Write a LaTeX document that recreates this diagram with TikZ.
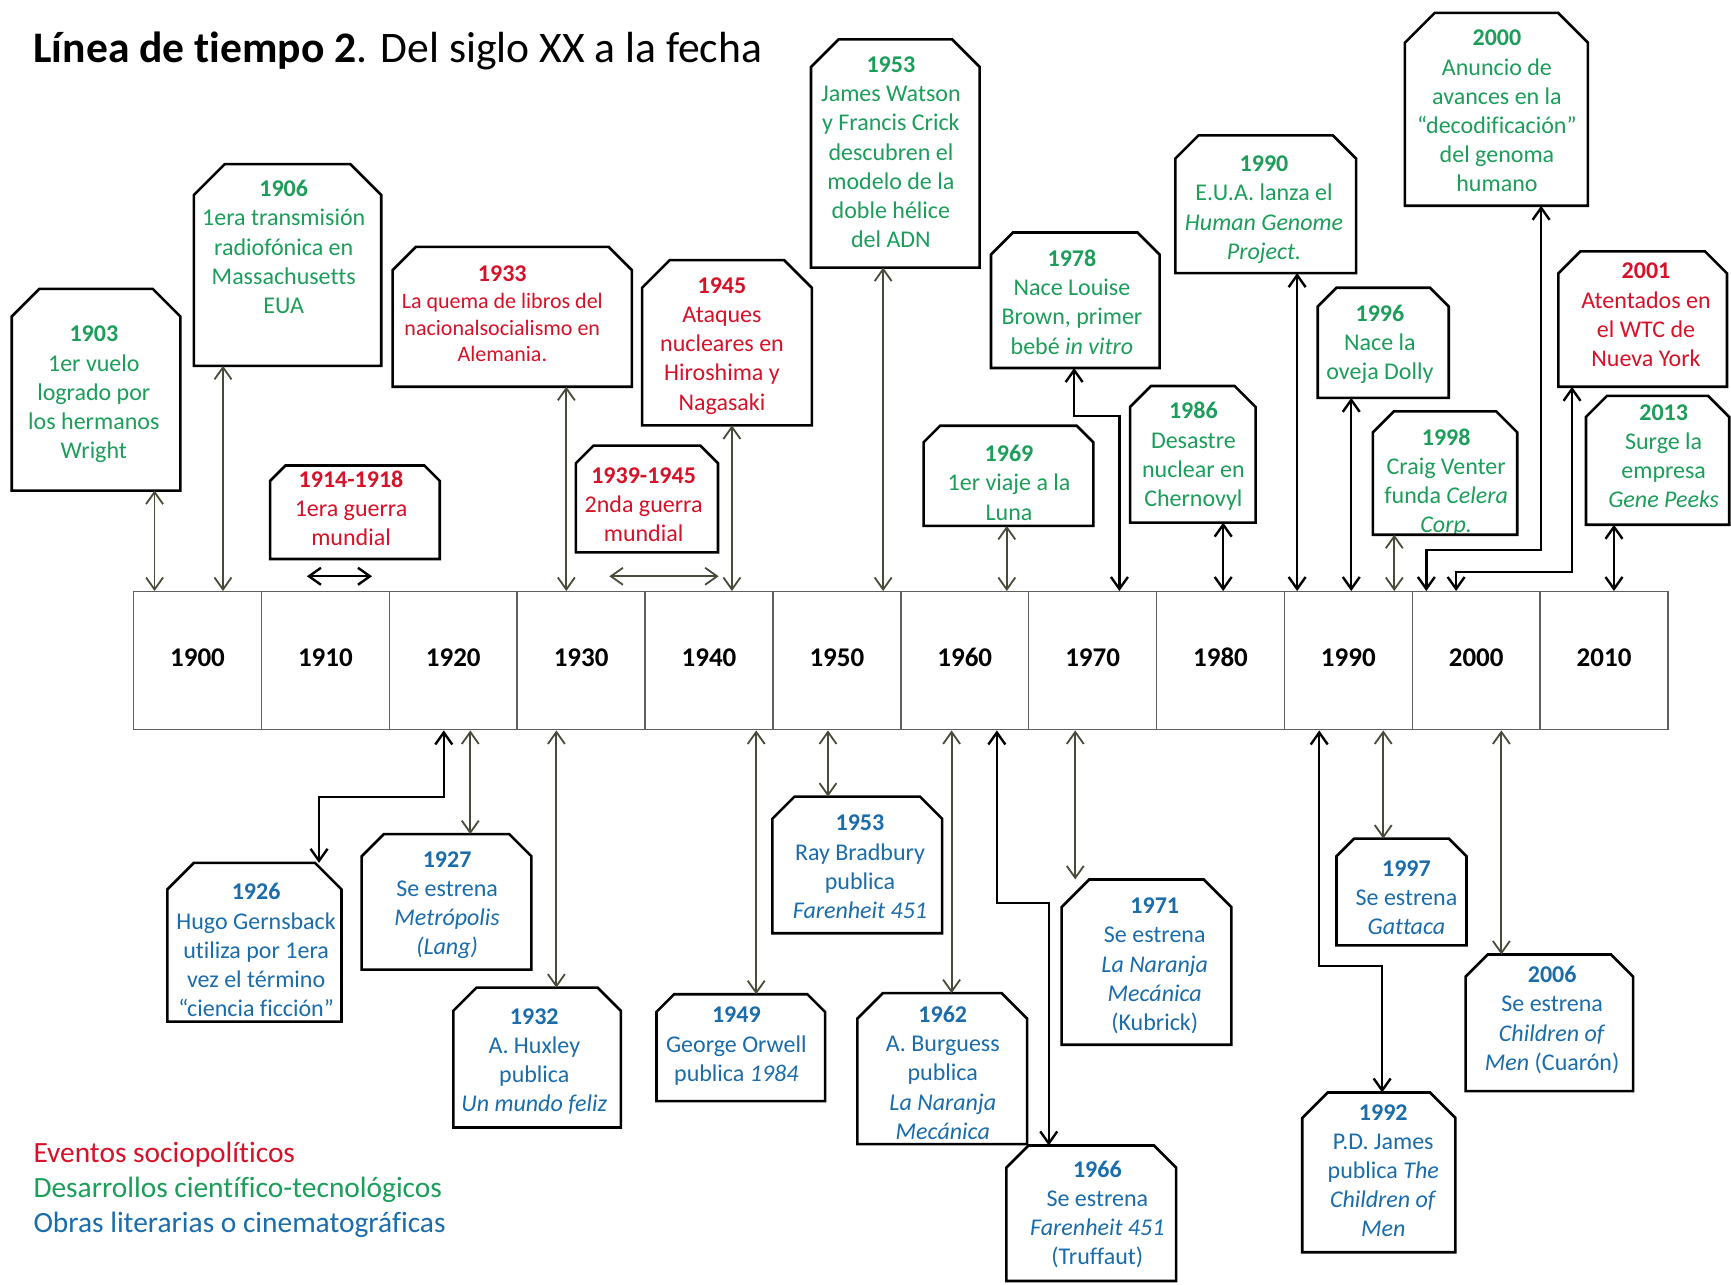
\documentclass[tikz,border=0pt]{standalone}
\usepackage{fontspec}
\setmainfont{Carlito}[Ligatures=NoCommon]
\usetikzlibrary{arrows.meta}

\definecolor{evred}{RGB}{214,18,40}
\definecolor{evgreen}{RGB}{28,158,90}
\definecolor{evblue}{RGB}{26,108,170}
\definecolor{linkgray}{RGB}{74,74,58}
\definecolor{barline}{RGB}{95,95,95}
\def\dpx{0.552pt}

\tikzset{
  evbox/.style 2 args={rectangle, inner sep=0pt, minimum width=#1*\dpx, minimum height=#2*\dpx},
  snip/.style={draw=black, line width=1.3pt, line join=miter},
  evtext/.style={align=center, inner sep=0pt, anchor=north, font=\fontsize{12}{14.6}\selectfont},
  sociopol/.style={evtext, text=evred},
  ciencia/.style={evtext, text=evgreen},
  obra/.style={evtext, text=evblue},
  cell/.style={draw=barline, line width=0.7pt, minimum width=115.83*\dpx, minimum height=125*\dpx,
    inner sep=0pt, text depth=3.5pt, font=\fontsize{13.5}{16}\selectfont\bfseries},
  barb/.tip={Straight Barb[length=6pt,width=8.5pt]},
  glink/.style={draw=linkgray, line width=0.9pt, barb-barb},
  blink/.style={draw=black, line width=1.2pt, barb-barb},
  key/.style={anchor=base west, inner sep=0pt, font=\fontsize{14.7}{17}\selectfont},
}

\begin{document}
\begin{tikzpicture}[x=\dpx, y=-\dpx]
\useasboundingbox[fill=white] (0,0) rectangle (1568,1164);

\node[anchor=base west, inner sep=0pt, font=\fontsize{21.8}{26}\selectfont] (title) at (30,57)
  {\textbf{Línea de tiempo 2}. Del siglo XX a la fecha};

% decades
\foreach \yr [count=\i from 0] in {1900,1910,...,2010}
  \node[cell] (c\yr) at ({121+115.83*(\i+0.5)},598.5) {\yr};

% events above the line
\node[evbox={152}{182}] (b1903) at (87,353) {};
\node[ciencia] (t1903) at (85,295) {\textbf{1903}\\1er vuelo\\logrado por\\los hermanos\\Wright};
\node[evbox={169}{182}] (b1906) at (260.5,240) {};
\node[ciencia] (t1906) at (257,163) {\textbf{1906}\\1era transmisión\\radiofónica en\\Massachusetts\\EUA};
\node[evbox={153}{84}] (b1914) at (321.5,464) {};
\node[sociopol] (t1914) at (318,426) {\textbf{1914-1918}\\1era guerra\\mundial};
\node[evbox={216}{126}] (b1933) at (464,287) {};
\node[sociopol] (t1933) at (455,240) {\textbf{1933}\\[-0.8pt]
  \fontsize{11}{13}\selectfont La quema de libros del\\[-1.4pt]
  \fontsize{11}{13}\selectfont nacionalsocialismo en\\[-1.4pt]
  \fontsize{11}{13}\selectfont Alemania.};
\node[evbox={128}{96}] (b1939) at (586,452) {};
\node[sociopol] (t1939) at (583,423) {\textbf{1939-1945}\\2nda guerra\\mundial};
\node[evbox={153}{149}] (b1945) at (658.5,310.5) {};
\node[sociopol] (t1945) at (654,251) {\textbf{1945}\\Ataques\\nucleares en\\Hiroshima y\\Nagasaki};
\node[evbox={152}{206}] (b1953t) at (811,139) {};
\node[ciencia] (t1953t) at (807,51) {\textbf{1953}\\James Watson\\y Francis Crick\\descubren el\\modelo de la\\doble hélice\\del ADN};
\node[evbox={153}{90}] (b1969) at (913.5,431) {};
\node[ciencia] (t1969) at (914,403) {\textbf{1969}\\1er viaje a la\\Luna};
\node[evbox={152}{122}] (b1978) at (974,272) {};
\node[ciencia] (t1978) at (971,226) {\textbf{1978}\\Nace Louise\\Brown, primer\\bebé \textit{in vitro}};
\node[evbox={113}{123}] (b1986) at (1080.5,411.5) {};
\node[ciencia] (t1986) at (1081,364) {\textbf{1986}\\Desastre\\nuclear en\\Chernovyl};
\node[evbox={163}{124}] (b1990) at (1146.5,185) {};
\node[ciencia] (t1990) at (1145,141) {\textbf{1990}\\E.U.A. lanza el\\\textit{Human Genome}\\\textit{Project.}};
\node[evbox={118}{99}] (b1996) at (1253,310.5) {};
\node[ciencia] (t1996) at (1250,276) {\textbf{1996}\\Nace la\\oveja Dolly};
\node[evbox={130}{111}] (b1998) at (1309,428.5) {};
\node[ciencia] (t1998) at (1310,388) {\textbf{1998}\\Craig Venter\\funda \textit{Celera}\\\textit{Corp.}};
\node[evbox={165}{174}] (b2000) at (1355.5,99) {};
\node[ciencia] (t2000) at (1356,27) {\textbf{2000}\\Anuncio de\\avances en la\\“decodificación”\\del genoma\\humano};
\node[evbox={152}{122}] (b2001) at (1488,289) {};
\node[sociopol] (t2001) at (1491,238) {\textbf{2001}\\Atentados en\\el WTC de\\Nueva York};
\node[evbox={129}{116}] (b2013) at (1501.5,417) {};
\node[ciencia] (t2013) at (1507,366) {\textbf{2013}\\Surge la\\empresa\\\textit{Gene Peeks}};

% works below the line
\node[evbox={157}{143}] (b1926) at (230.5,853.5) {};
\node[obra] (t1926) at (232,800) {\textbf{1926}\\Hugo Gernsback\\utiliza por 1era\\vez el término\\“ciencia ficción”};
\node[evbox={153}{122}] (b1927) at (404.5,817) {};
\node[obra] (t1927) at (405,771) {\textbf{1927}\\Se estrena\\\textit{Metrópolis}\\\textit{(Lang)}};
\node[evbox={151}{126}] (b1932) at (486.5,958) {};
\node[obra] (t1932) at (484,913) {\textbf{1932}\\A. Huxley\\publica\\\textit{Un mundo feliz}};
\node[evbox={152}{96}] (b1949) at (671,949) {};
\node[obra] (t1949) at (667,912) {\textbf{1949}\\George Orwell\\publica \textit{1984}};
\node[evbox={153}{123}] (b1953b) at (776.5,783.5) {};
\node[obra] (t1953b) at (779,738) {\textbf{1953}\\Ray Bradbury\\publica\\\textit{Farenheit 451}};
\node[evbox={153}{136}] (b1962) at (853.5,968) {};
\node[obra] (t1962) at (854,911) {\textbf{1962}\\A. Burguess\\publica\\\textit{La Naranja}\\\textit{Mecánica}};
\node[evbox={153}{122}] (b1966) at (988.5,1099) {};
\node[obra] (t1966) at (994,1051) {\textbf{1966}\\Se estrena\\\textit{Farenheit 451}\\(Truffaut)};
\node[evbox={153}{149}] (b1971) at (1038.5,871.5) {};
\node[obra] (t1971) at (1046,813) {\textbf{1971}\\Se estrena\\\textit{La Naranja}\\\textit{Mecánica}\\(Kubrick)};
\node[evbox={138}{144}] (b1992) at (1249,1062) {};
\node[obra] (t1992) at (1253,1000) {\textbf{1992}\\P.D. James\\publica \textit{The}\\\textit{Children of}\\\textit{Men}};
\node[evbox={117}{96}] (b1997) at (1269.5,808) {};
\node[obra] (t1997) at (1274,779) {\textbf{1997}\\Se estrena\\\textit{Gattaca}};
\node[evbox={151}{123}] (b2006) at (1403.5,926.5) {};
\node[obra] (t2006) at (1406,875) {\textbf{2006}\\Se estrena\\\textit{Children of}\\\textit{Men} (Cuarón)};

% outlines with the two top corners cut
\foreach \b/\s in {b1903/25, b1906/28, b1914/14, b1933/21, b1939/16, b1945/25, b1953t/25,
    b1969/15, b1978/20, b1986/19, b1990/21, b1996/17, b1998/19, b2000/27, b2001/20, b2013/19,
    b1926/24, b1927/20, b1932/21, b1949/16, b1953b/20, b1962/23, b1966/20, b1971/25,
    b1992/23, b1997/16, b2006/20}
  \draw[snip] (\b.south west) -- ([shift={(0,\s)}]\b.north west) -- ([shift={(\s,0)}]\b.north west)
    -- ([shift={(-\s,0)}]\b.north east) -- ([shift={(0,\s)}]\b.north east) -- (\b.south east) -- cycle;

% links above
\draw[glink] (b1903.south -| 140,0) -- (c1900.north -| 140,0);
\draw[glink] (b1906.south -| 202,0) -- (c1900.north -| 202,0);
\draw[glink] (b1933.south -| 513,0) -- (c1930.north -| 513,0);
\draw[glink] (b1945.south -| 663,0) -- (c1940.north -| 663,0);
\draw[glink] (b1953t.south -| 800,0) -- (c1950.north -| 800,0);
\draw[glink] (b1969.south -| 912,0) -- (c1960.north -| 912,0);
\draw[blink] (b1978.south -| 973,0) |- (1014,377) -- (c1970.north -| 1014,0);
\draw[blink] (b1986.south -| 1108,0) -- (c1980.north -| 1108,0);
\draw[blink] (b1990.south -| 1175,0) -- (c1990.north -| 1175,0);
\draw[blink] (b1996.south -| 1224,0) -- (c1990.north -| 1224,0);
\draw[glink] (b1998.south -| 1263,0) -- (c1990.north -| 1263,0);
\draw[blink] (b2000.south -| 1396,0) |- (1292,498) -- (c2000.north -| 1292,0);
\draw[blink] (b2001.south -| 1424,0) |- (1319,518) -- (c2000.north -| 1319,0);
\draw[blink] (b2013.south -| 1462,0) -- (c2010.north -| 1462,0);
% war spans
\coordinate (w1a) at (278,522);
\coordinate (w1b) at (337,522);
\draw[blink] (w1a) -- (w1b);
\coordinate (w2a) at (552,522);
\coordinate (w2b) at (651,522);
\draw[glink] (w2a) -- (w2b);

% links below
\draw[blink] (c1920.south -| 402,0) |- (289,722) -- (b1926.north -| 289,0);
\draw[glink] (c1920.south -| 426,0) -- (b1927.north -| 426,0);
\draw[glink] (c1930.south -| 504,0) -- (b1932.north -| 504,0);
\draw[glink] (c1940.south -| 685,0) -- (b1949.north -| 685,0);
\draw[glink] (c1950.south -| 750,0) -- (b1953b.north -| 750,0);
\draw[glink] (c1960.south -| 862,0) -- (b1962.north -| 862,0);
\draw[blink] (c1960.south -| 903,0) |- (950,818) -- (b1966.north -| 950,0);
\draw[glink] (c1970.south -| 974,0) -- (b1971.north -| 974,0);
\draw[blink] (c1990.south -| 1195,0) |- (1252,875) -- (b1992.north -| 1252,0);
\draw[glink] (c1990.south -| 1253,0) -- (b1997.north -| 1253,0);
\draw[glink] (c2000.south -| 1360,0) -- (b2006.north -| 1360,0);

% legend
\node[key, text=evred] (key1) at (30,1053) {Eventos sociopolíticos};
\node[key, text=evgreen] (key2) at (30,1085) {Desarrollos científico-tecnológicos};
\node[key, text=evblue] (key3) at (30,1116) {Obras literarias o cinematográficas};
\end{tikzpicture}
\end{document}
